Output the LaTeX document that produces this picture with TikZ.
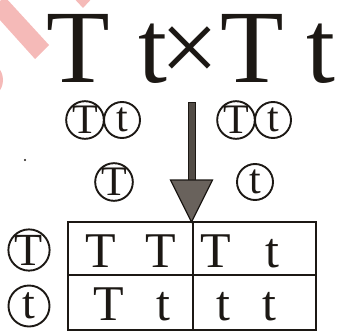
\documentclass[tikz,border=0pt]{standalone}
\usepackage{fontspec}
\setmainfont{Liberation Serif}
\usetikzlibrary{calc}
\definecolor{ink}{RGB}{28,24,20}
\definecolor{wmark}{RGB}{245,186,184}
\definecolor{headgray}{RGB}{105,98,92}
\tikzset{
  bigletter/.style={inner sep=0pt, anchor=base, text depth=0pt, text=ink,
                    font=\fontsize{104}{104}\selectfont},
  allele/.style={circle, draw=ink, line width=1.9pt, minimum size=36pt, inner sep=0pt,
                 text=ink, font=\fontsize{42}{42}\selectfont},
  rowallele/.style={allele, minimum size=41pt, font=\fontsize{46}{46}\selectfont},
  cellletter/.style={inner sep=0pt, anchor=base, text=ink, font=\fontsize{50}{50}\selectfont},
  gridline/.style={draw=ink, line width=2pt},
}
\begin{document}
\begin{tikzpicture}[x=1pt,y=-1pt]
\useasboundingbox (0,0) rectangle (339,334);

% faint pink marks along the upper left edge
\begin{scope}
  \clip (0,0) rectangle (339,334);
  \fill[wmark] (5,-3) -- (49,45) -- (35,59) -- (-10,9) -- cycle;
  \fill[wmark] (70,-6) -- (96,-6) -- (83,8) -- cycle;
  \fill[wmark] (-16,80) circle (19);
\end{scope}

% parental cross
\node[bigletter] (p1a) at (78,82) {T};
\node[bigletter] (p1b) at (153,82) {t};
\node[bigletter] (cross) at (190,82) {×};
\node[bigletter] (p2a) at (252,82) {T};
\node[bigletter] (p2b) at (321,82) {t};

% gametes of each parent
\node[allele] (g1T) at (85,120) {T};
\node[allele] (g1t) at (122,120) {t};
\node[allele] (g2T) at (236,120) {T};
\node[allele] (g2t) at (273,120) {t};
\node[allele] (colT) at (114,182) {T};
\node[allele] (colt) at (255,182) {t};

% downward arrow
\coordinate (arrtop) at (191.5,102);
\coordinate (arrtip) at (191.5,222);
\filldraw[draw=ink, fill=headgray!70!ink, line width=1pt]
  ($(arrtop)+(-3.5,0)$) rectangle ($(arrtip)+(3.5,-42)$);
\filldraw[draw=ink, fill=headgray, line width=1.2pt, line join=miter]
  ($(arrtip)+(-21,-42)$) -- ($(arrtip)+(21,-42)$) -- (arrtip) -- cycle;

% stray dot
\fill[ink] (25,160) circle (1.2);

% Punnett square
\coordinate (sqNW) at (68,222);
\coordinate (sqSE) at (316,330);
\draw[gridline] (sqNW) rectangle (sqSE);
\draw[gridline] (193,222) -- (193,330);
\draw[gridline] (68,275) -- (316,275);

\node[rowallele] (rowT) at (29,250) {T};
\node[rowallele] (rowt) at (29,306) {t};

\node[cellletter] (c11a) at (101,267) {T};
\node[cellletter] (c11b) at (161,267) {T};
\node[cellletter] (c12a) at (216,267) {T};
\node[cellletter] (c12b) at (272,267) {t};
\node[cellletter] (c21a) at (109,320) {T};
\node[cellletter] (c21b) at (163,320) {t};
\node[cellletter] (c22a) at (223,320) {t};
\node[cellletter] (c22b) at (269,320) {t};
\end{tikzpicture}
\end{document}
